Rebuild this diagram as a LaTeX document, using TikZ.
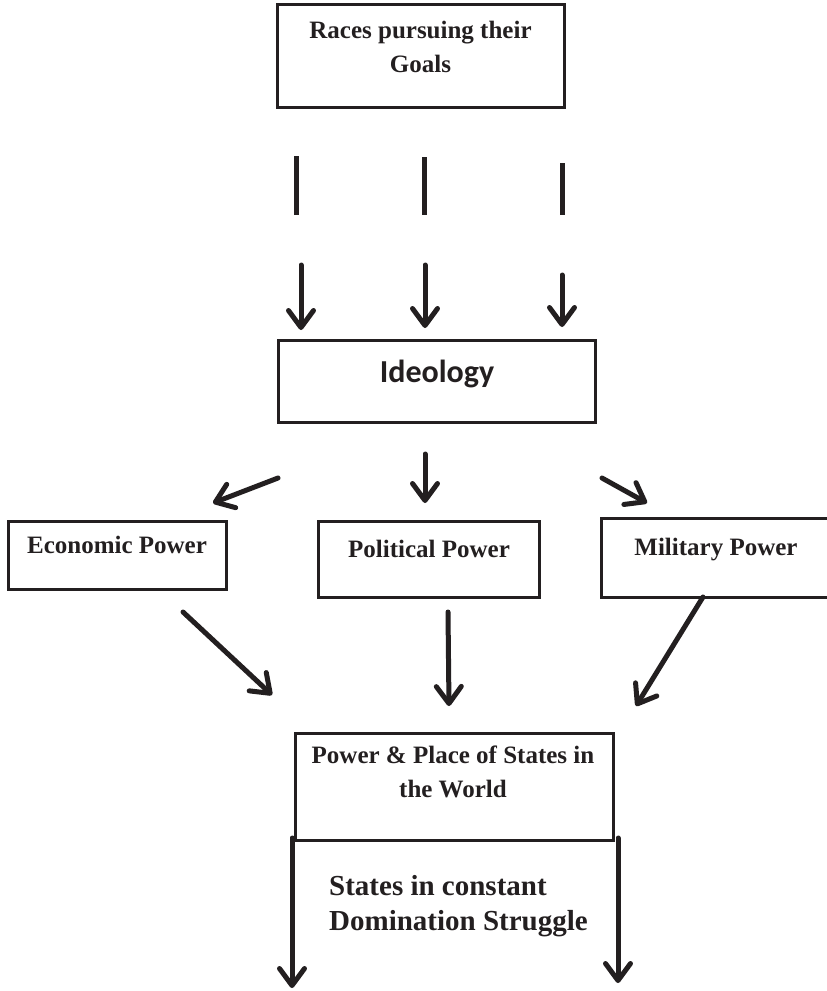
\documentclass[tikz,border=0pt]{standalone}
\usepackage{fontspec}
\setmainfont{Liberation Serif}
\newfontfamily\carlitofont{Carlito}
\usetikzlibrary{arrows.meta}
\definecolor{ink}{RGB}{35,31,32}
\begin{document}
\begin{tikzpicture}[x=1pt,y=-1pt,
  box/.style={draw=ink,line width=3pt,inner sep=0pt},
  lbl/.style={text=ink,font=\bfseries\fontsize{25}{33.5}\selectfont,align=center,inner sep=0pt,anchor=base},
  bigl/.style={text=ink,font=\bfseries\fontsize{29}{35}\selectfont,align=left,inner sep=0pt,anchor=base west},
  bar/.style={draw=ink,line width=5pt},
  arr/.style={draw=ink,line width=5pt,line cap=round,-{Straight Barb[length=17pt,width=25pt,round]}}]
\useasboundingbox (0,0) rectangle (827,991);
\clip (0,0) rectangle (827,991);

% boxes
\node[box,minimum width=287pt,minimum height=103pt] (races) at (420.5,55.5) {};
\node[box,minimum width=317pt,minimum height=82pt] (ideo) at (436.5,381) {};
\node[box,minimum width=218pt,minimum height=68pt] (econ) at (117,555) {};
\node[box,minimum width=221pt,minimum height=76pt] (poli) at (428.5,559) {};
\node[box,minimum width=231pt,minimum height=79pt] (mili) at (716.5,557.5) {};
\node[box,minimum width=318pt,minimum height=107pt] (world) at (454,786.5) {};

% texts (multi-line nodes: base = baseline of last line)
\node[lbl] (racest) at (420.5,72) {Races pursuing their\\Goals};
\node[text=ink,font=\carlitofont\bfseries\fontsize{32}{38}\selectfont,inner sep=0pt,anchor=base] (ideot) at (437,382) {Ideology};
\node[lbl] (econt) at (117,553) {Economic Power};
\node[lbl] (polit) at (429,557) {Political Power};
\node[lbl] (milit) at (716,555) {Military Power};
\node[lbl] (worldt) at (453,797) {Power \& Place of States in\\the World};
\node[bigl] (strug) at (329,930) {States in constant\\Domination Struggle};

% bars
\coordinate (b1s) at (296,156); \coordinate (b1e) at (296,215);
\coordinate (b2s) at (424,157); \coordinate (b2e) at (424,215);
\coordinate (b3s) at (562,163); \coordinate (b3e) at (562,215);
\draw[bar] (b1s) -- (b1e);
\draw[bar] (b2s) -- (b2e);
\draw[bar] (b3s) -- (b3e);

% arrows into ideology
\coordinate (d1s) at (301,265); \coordinate (d1e) at (301,330);
\coordinate (d2s) at (425,265); \coordinate (d2e) at (425,328);
\coordinate (d3s) at (562,275); \coordinate (d3e) at (562,327);
\draw[arr] (d1s) -- (d1e);
\draw[arr] (d2s) -- (d2e);
\draw[arr] (d3s) -- (d3e);

% arrows out of ideology
\coordinate (o1s) at (278,478); \coordinate (o1e) at (213,503);
\coordinate (o2s) at (425,454); \coordinate (o2e) at (425,503);
\coordinate (o3s) at (602,478); \coordinate (o3e) at (647,503);
\draw[arr] (o1s) -- (o1e);
\draw[arr] (o2s) -- (o2e);
\draw[arr] (o3s) -- (o3e);

% arrows into world
\coordinate (w1s) at (183,612); \coordinate (w1e) at (272,695);
\coordinate (w2s) at (448,612); \coordinate (w2e) at (449,706);
\coordinate (w3s) at (703,597); \coordinate (w3e) at (636,706);
\draw[arr] (w1s) -- (w1e);
\draw[arr] (w2s) -- (w2e);
\draw[arr] (w3s) -- (w3e);

% bottom arrows
\coordinate (f1s) at (292,838); \coordinate (f1e) at (292,988);
\coordinate (f2s) at (618,838); \coordinate (f2e) at (618,983);
\draw[arr] (f1s) -- (f1e);
\draw[arr] (f2s) -- (f2e);
\end{tikzpicture}
\end{document}
